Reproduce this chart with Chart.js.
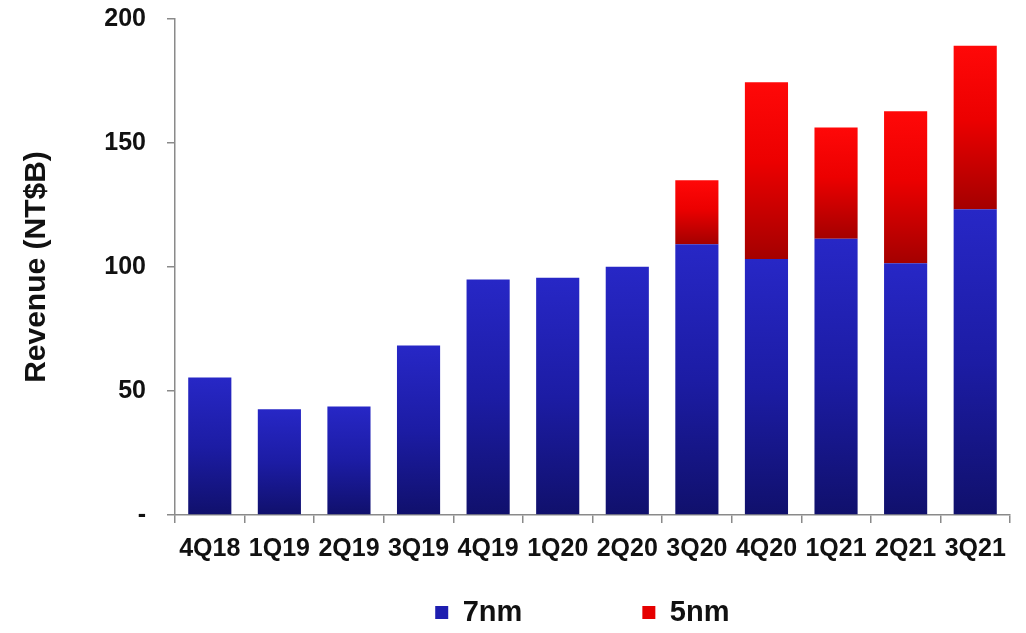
<!DOCTYPE html>
<html>
<head>
<meta charset="utf-8">
<script src="https://cdn.jsdelivr.net/npm/chart.js@4"></script>
<style>
  html, body { margin: 0; padding: 0; background: #fff; }
  #wrap { width: 1026px; height: 633px; }
</style>
</head>
<body>
<div id="wrap"><canvas id="nodeChart"></canvas></div>
<script>
// quarterly revenue by node, NT$ billions
const quarters = ['4Q18', '1Q19', '2Q19', '3Q19', '4Q19', '1Q20', '2Q20', '3Q20', '4Q20', '1Q21', '2Q21', '3Q21'];
const rev7nm = [55.4, 42.6, 43.7, 68.3, 95.0, 95.7, 100.1, 109.2, 103.2, 111.4, 101.5, 123.3];
const rev5nm = [null, null, null, null, null, null, null, 25.8, 71.3, 44.9, 61.3, 65.9];
const yTicks = [0, 50, 100, 150, 200];

const FONT = "'Liberation Sans', Arial, sans-serif";

// vertical gradient over one bar segment
function segGradient(c, stops, base) {
  const chart = c.chart;
  const y = chart.scales.y;
  const i = c.dataIndex;
  if (!y || !chart.chartArea || i === undefined) return stops[0][1];
  const top = y.getPixelForValue(base[i] + (c.dataset.data[i] || 0));
  const bottom = y.getPixelForValue(base[i]);
  if (!isFinite(top) || !isFinite(bottom) || top === bottom) return stops[0][1];
  const g = chart.ctx.createLinearGradient(0, top, 0, bottom);
  stops.forEach(s => g.addColorStop(s[0], s[1]));
  return g;
}

const blueStops = [[0, '#2727c6'], [0.5, '#1c1ca4'], [1, '#10106c']];
const redStops = [[0, '#ff0808'], [0.45, '#ec0000'], [1, '#a40000']];
const zeros = quarters.map(() => 0);

document.addEventListener('DOMContentLoaded', () => {
  const ctx = document.getElementById('nodeChart');
  new Chart(ctx, {
    type: 'bar',
    data: {
      labels: quarters,
      datasets: [{
        label: '7nm',
        data: rev7nm,
        backgroundColor: (c) => segGradient(c, blueStops, zeros),
        borderWidth: 0,
        barPercentage: 0.62,
        categoryPercentage: 1
      }, {
        label: '5nm',
        data: rev5nm,
        backgroundColor: (c) => segGradient(c, redStops, rev7nm),
        borderWidth: 0,
        barPercentage: 0.62,
        categoryPercentage: 1
      }]
    },
    options: {
      responsive: true,
      maintainAspectRatio: false,
      animation: false,
      layout: { padding: { top: 19, right: 16, left: 0, bottom: -4 } },
      plugins: {
        tooltip: { enabled: false },
        legend: {
          position: 'bottom',
          fullSize: false,
          labels: {
            color: '#111',
            font: { family: FONT, size: 29, weight: 'bold' },
            boxWidth: 13,
            boxHeight: 13,
            padding: 4,
            generateLabels: (chart) => chart.data.datasets.map((ds, i) => ({
              // trailing spaces set the gap between entries and nudge the row left
              text: i === 0 ? ds.label + '\u2003\u2003\u2003\u2003' : ds.label + '\u2002\u2009',
              fillStyle: i === 0 ? '#1e1eb0' : '#e60000',
              strokeStyle: i === 0 ? '#1e1eb0' : '#e60000',
              lineWidth: 0,
              fontColor: '#111',
              hidden: false,
              datasetIndex: i
            }))
          }
        }
      },
      scales: {
        x: {
          stacked: true,
          afterFit: (s) => { s.height = 79; },
          border: { color: '#8a8a8a', width: 1.5 },
          grid: { drawOnChartArea: false, drawTicks: true, tickLength: 8, color: '#8a8a8a', lineWidth: 1.5, offset: true },
          ticks: {
            color: '#111',
            padding: 11,
            autoSkip: false,
            maxRotation: 0,
            font: { family: FONT, size: 25, weight: 'bold' }
          }
        },
        y: {
          stacked: true,
          min: 0,
          max: 200,
          afterFit: (s) => { s.width = 175; s.paddingTop = 0; s.paddingBottom = 0; },
          afterBuildTicks: (s) => { s.ticks = yTicks.map(v => ({ value: v })); },
          border: { color: '#8a8a8a', width: 1.5 },
          grid: { drawOnChartArea: false, drawTicks: true, tickLength: 8, color: '#8a8a8a', lineWidth: 1.5 },
          ticks: {
            color: '#111',
            padding: 21,
            font: { family: FONT, size: 25, weight: 'bold' },
            callback: (v) => v === 0 ? '-' : v
          },
          title: {
            display: true,
            text: 'Revenue (NT$B)',
            color: '#111',
            font: { family: FONT, size: 30, weight: 'bold' },
            padding: { top: 19, bottom: 0 }
          }
        }
      }
    }
  });
});
</script>
</body>
</html>
